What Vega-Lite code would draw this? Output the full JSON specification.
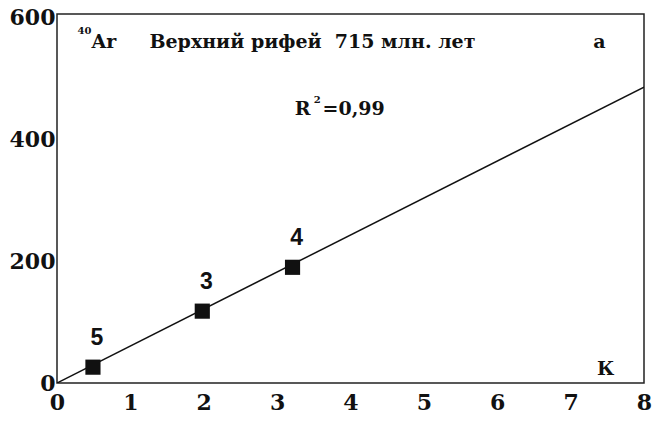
{
  "$schema": "https://vega.github.io/schema/vega-lite/v6.json",
  "autosize": {"type": "none"},
  "padding": {"left": 57, "top": 14, "right": 8, "bottom": 38},
  "width": 587,
  "height": 369,
  "background": "white",
  "config": {
    "view": {"stroke": "#222", "strokeWidth": 1.5},
    "font": "DejaVu Serif"
  },
  "datasets": {
    "points": [
      {"K": 0.49, "Ar": 26, "label": "5"},
      {"K": 1.98, "Ar": 118, "label": "3"},
      {"K": 3.21, "Ar": 190, "label": "4"}
    ],
    "fit": [
      {"K": 0, "Ar": 0},
      {"K": 8, "Ar": 486}
    ]
  },
  "layer": [
    {
      "data": {"name": "fit"},
      "mark": {"type": "line", "color": "#111", "strokeWidth": 1.5, "clip": true},
      "encoding": {
        "x": {"field": "K", "type": "quantitative", "scale": {"domain": [0, 8], "nice": false},
          "axis": {"title": null, "grid": false, "ticks": false, "domain": false, "values": [0,1,2,3,4,5,6,7,8], "format": "d",
            "labelFont": "DejaVu Serif", "labelFontWeight": "bold", "labelFontSize": 22, "labelColor": "#111", "labelPadding": 9, "labelFlush": false}},
        "y": {"field": "Ar", "type": "quantitative", "scale": {"domain": [0, 606], "nice": false},
          "axis": {"title": null, "grid": false, "ticks": false, "domain": false, "values": [0,200,400,600],
            "labelFont": "DejaVu Serif", "labelFontWeight": "bold", "labelFontSize": 22, "labelColor": "#111", "labelPadding": 2, "labelFlush": false}}
      }
    },
    {
      "data": {"name": "points"},
      "mark": {"type": "point", "shape": "square", "filled": true, "color": "#111", "size": 230, "opacity": 1},
      "encoding": {
        "x": {"field": "K", "type": "quantitative"},
        "y": {"field": "Ar", "type": "quantitative"}
      }
    },
    {
      "data": {"name": "points"},
      "mark": {"type": "text", "font": "Liberation Sans", "fontWeight": "bold", "fontSize": 23, "color": "#111", "baseline": "alphabetic", "dy": -22, "dx": 4},
      "encoding": {
        "x": {"field": "K", "type": "quantitative"},
        "y": {"field": "Ar", "type": "quantitative"},
        "text": {"field": "label"}
      }
    },
    {
      "data": {"values": [
        {"K": 0.47, "Ar": 550, "t": "Ar"},
        {"K": 1.26, "Ar": 550, "t": "Верхний рифей\u00a0 715 млн. лет"},
        {"K": 7.31, "Ar": 550, "t": "а"},
        {"K": 3.24, "Ar": 440, "t": "R"},
        {"K": 3.62, "Ar": 440, "t": "=0,99"},
        {"K": 7.36, "Ar": 13, "t": "К"}
      ]},
      "mark": {"type": "text", "font": "DejaVu Serif", "fontWeight": "bold", "fontSize": 19, "color": "#111", "align": "left", "baseline": "alphabetic"},
      "encoding": {
        "x": {"field": "K", "type": "quantitative"},
        "y": {"field": "Ar", "type": "quantitative"},
        "text": {"field": "t"}
      }
    },
    {
      "data": {"values": [
        {"K": 0.28, "Ar": 573, "t": "40"},
        {"K": 3.5, "Ar": 460, "t": "2"}
      ]},
      "mark": {"type": "text", "font": "DejaVu Serif", "fontWeight": "bold", "fontSize": 10, "color": "#111", "align": "left", "baseline": "alphabetic"},
      "encoding": {
        "x": {"field": "K", "type": "quantitative"},
        "y": {"field": "Ar", "type": "quantitative"},
        "text": {"field": "t"}
      }
    }
  ]
}
